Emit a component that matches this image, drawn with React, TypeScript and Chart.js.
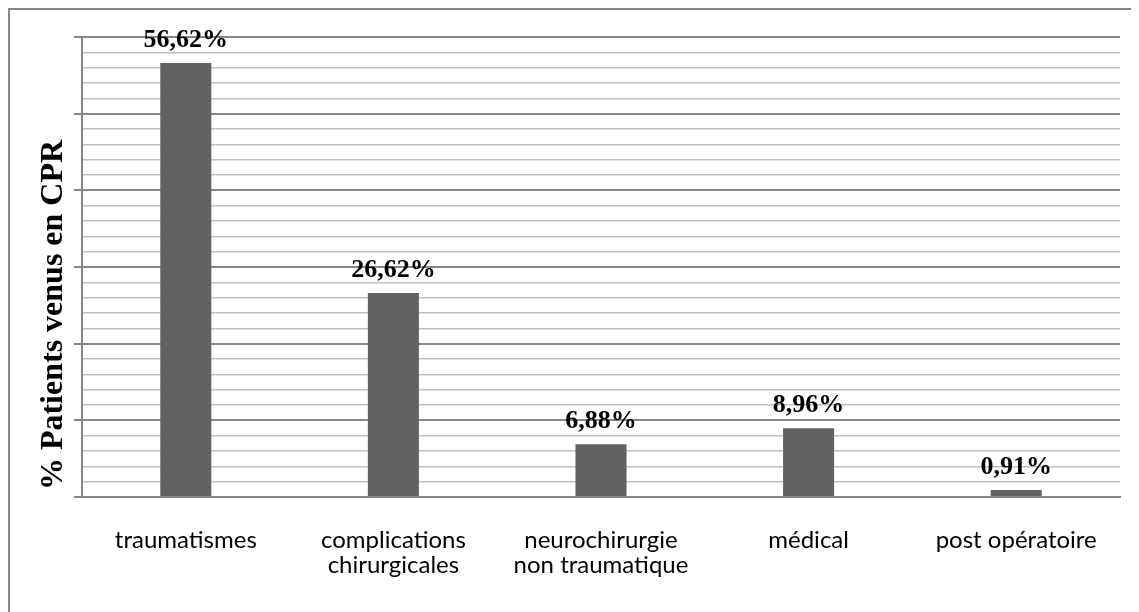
import React, { useEffect, useRef } from "react";
import { Chart, registerables } from "chart.js";

Chart.register(...registerables);

const categories: string[][] = [
  ["traumatismes"],
  ["complications", "chirurgicales"],
  ["neurochirurgie", "non traumatique"],
  ["médical"],
  ["post opératoire"],
];
const values: number[] = [56.62, 26.62, 6.88, 8.96, 0.91];
const valueLabels: string[] = ["56,62%", "26,62%", "6,88%", "8,96%", "0,91%"];
const yMin = 0;
const yMax = 60;
const yStep = 2;
const majorEvery = 10;
const axisTitle = "% Patients venus en CPR";

const MAJOR = "#878787";
const MINOR = "#c0c0c0";
const BAR = "#626262";

export default function App() {
  const ref = useRef<HTMLCanvasElement | null>(null);

  useEffect(() => {
    document.documentElement.style.overflow = "hidden";
    document.body.style.overflow = "hidden";
    const canvas = ref.current;
    if (!canvas) return;

    const labelPlugin = {
      id: "valueLabels",
      afterDatasetsDraw(chart: any) {
        const ctx = chart.ctx;
        const meta = chart.getDatasetMeta(0);
        ctx.save();
        ctx.font = 'bold 26px "Liberation Serif", "Times New Roman", serif';
        ctx.fillStyle = "#000";
        ctx.textAlign = "center";
        ctx.textBaseline = "alphabetic";
        meta.data.forEach((el: any, i: number) => {
          ctx.fillText(valueLabels[i], el.x, el.y - 16);
        });
        ctx.restore();
      },
    };

    const titlePlugin = {
      id: "yTitle",
      afterDraw(chart: any) {
        const ctx = chart.ctx;
        ctx.save();
        ctx.translate(44, 305);
        ctx.rotate(-Math.PI / 2);
        ctx.font = 'bold 32px "Liberation Serif", "Times New Roman", serif';
        ctx.fillStyle = "#000";
        ctx.textAlign = "center";
        ctx.textBaseline = "middle";
        ctx.fillText(axisTitle, 0, 0);
        ctx.restore();
      },
    };

    const chart = new Chart(canvas, {
      type: "bar",
      data: {
        labels: categories,
        datasets: [
          {
            data: values,
            backgroundColor: BAR,
            categoryPercentage: 1,
            barPercentage: 0.246,
          },
        ],
      },
      options: {
        animation: false,
        responsive: false,
        layout: { padding: { top: 27, right: 19, left: 0, bottom: 0 } },
        plugins: {
          legend: { display: false },
          tooltip: { enabled: false },
          title: { display: false },
        },
        scales: {
          x: {
            grid: { display: false },
            border: { display: true, color: MAJOR, width: 2 },
            ticks: {
              color: "#000",
              font: { family: "Lato, 'Open Sans', sans-serif", size: 24, lineHeight: 1.04 },
              padding: 23,
              maxRotation: 0,
              autoSkip: false,
            },
            afterFit: (s: any) => {
              s.height = 115;
            },
          },
          y: {
            min: yMin,
            max: yMax,
            ticks: { stepSize: yStep, display: false },
            grid: {
              color: (c: any) => (Math.round(c.tick.value) % majorEvery === 0 ? MAJOR : MINOR),
              lineWidth: (c: any) => (Math.round(c.tick.value) % majorEvery === 0 ? 2 : 1.5),
              tickColor: (c: any) => (Math.round(c.tick.value) % majorEvery === 0 ? MAJOR : "rgba(0,0,0,0)"),
              tickLength: 8,
              drawTicks: true,
            },
            border: { display: true, color: MAJOR, width: 2 },
            afterFit: (s: any) => {
              s.width = 72;
            },
          },
        },
      },
      plugins: [labelPlugin, titlePlugin],
    });

    return () => chart.destroy();
  }, []);

  return (
    <div
      style={{
        width: 1131,
        height: 604,
        borderTop: `2px solid ${MAJOR}`,
        borderLeft: `2px solid ${MAJOR}`,
        boxSizing: "border-box",
        background: "#fff",
      }}
    >
      <canvas ref={ref} width={1129} height={602} style={{ display: "block" }} />
    </div>
  );
}
